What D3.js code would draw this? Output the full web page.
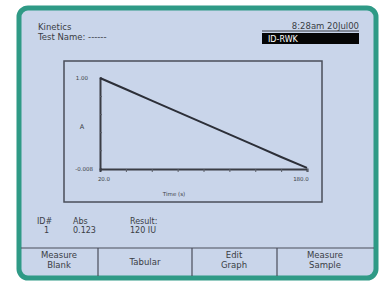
<!DOCTYPE html>
<html><head><meta charset="utf-8">
<script src="https://cdn.jsdelivr.net/npm/d3@7/dist/d3.min.js"></script>
<style>html,body{margin:0;padding:0;background:#fff;}svg{display:block;}</style>
</head><body>
<script>
const times = [20, 40, 60, 80, 100, 120, 140, 160, 180];
const absorbance = [1.0, 0.875, 0.75, 0.625, 0.5, 0.375, 0.25, 0.125, 0.005];
const yTickLabels = ["-0.008", "1.00"];
const xTickLabels = ["20.0", "180.0"];
const headerLines = ["Kinetics", "Test Name: ------"];
const dateText = "8:28am 20Jul00";
const statusText = "ID-RWK";
const infoCols = [["ID#", "1"], ["Abs", "0.123"], ["Result:", "120 IU"]];
const buttons = [["Measure", "Blank"], ["Tabular"], ["Edit", "Graph"], ["Measure", "Sample"]];

const W = 383, H = 281;
const svg = d3.select("body").append("svg").attr("width", W).attr("height", H);
const font = "'DejaVu Sans', sans-serif";
const ink = "#3a3d45";

svg.append("rect").attr("x", 19).attr("y", 8).attr("width", 357).attr("height", 270)
  .attr("rx", 9).attr("fill", "#c9d5ea").attr("stroke", "#2f9a86").attr("stroke-width", 5);

// header
svg.selectAll("text.hdr").data(headerLines).join("text").attr("class","hdr")
  .attr("x", 38).attr("y", (d,i) => 30 + i*10).text(d => d)
  .attr("font-family", font).attr("font-size", 8.5).attr("fill", ink);
svg.append("text").attr("x", 359).attr("y", 29).attr("text-anchor", "end").text(dateText)
  .attr("font-family", font).attr("font-size", 8.5).attr("fill", ink);
svg.append("line").attr("x1", 262).attr("x2", 359).attr("y1", 31).attr("y2", 31).attr("stroke", ink).attr("stroke-width", 1);
svg.append("rect").attr("x", 262).attr("y", 33).attr("width", 97).attr("height", 11).attr("fill", "#050505");
svg.append("text").attr("x", 268).attr("y", 42).text(statusText)
  .attr("font-family", font).attr("font-size", 8).attr("fill", "#fff");

// graph box
svg.append("rect").attr("x", 64).attr("y", 61).attr("width", 258).attr("height", 141)
  .attr("fill", "none").attr("stroke", "#4a4e5a").attr("stroke-width", 1.5);

const x = d3.scaleLinear().domain([20, 180]).range([100, 307]);
const y = d3.scaleLinear().domain([-0.008, 1.0]).range([169, 78]);

const xAxis = d3.axisBottom(x).tickValues([40,60,80,100,120,140,160,180]).tickSize(3).tickFormat("");
const gx = svg.append("g").attr("transform", "translate(0,169)").call(xAxis);
gx.select(".domain").attr("stroke", ink).attr("stroke-width", 2);
gx.selectAll(".tick line").attr("stroke", "#5a5e68");
const yAxis = d3.axisLeft(y).tickValues([0.2,0.4,0.6,0.8]).tickSize(-2).tickFormat("");
const gy = svg.append("g").attr("transform", "translate(100,0)").call(yAxis);
gy.select(".domain").attr("stroke", ink).attr("stroke-width", 2);
gy.selectAll(".tick line").attr("stroke", "#5a5e68");

svg.append("text").attr("x", 88).attr("y", y(1.0)+2).attr("text-anchor","end").text(yTickLabels[1])
  .attr("font-family", font).attr("font-size", 5.5).attr("fill", ink);
svg.append("text").attr("x", 93).attr("y", y(-0.008)+2).attr("text-anchor","end").text(yTickLabels[0])
  .attr("font-family", font).attr("font-size", 5.5).attr("fill", ink);
svg.append("text").attr("x", 82).attr("y", 129).attr("text-anchor","middle").text("A")
  .attr("font-family", font).attr("font-size", 6.5).attr("fill", ink);
svg.append("text").attr("x", x(20)+4).attr("y", 181).attr("text-anchor","middle").text(xTickLabels[0])
  .attr("font-family", font).attr("font-size", 5.5).attr("fill", ink);
svg.append("text").attr("x", x(180)-6).attr("y", 181).attr("text-anchor","middle").text(xTickLabels[1])
  .attr("font-family", font).attr("font-size", 5.5).attr("fill", ink);
svg.append("text").attr("x", 174).attr("y", 196).attr("text-anchor","middle").text("Time (s)")
  .attr("font-family", font).attr("font-size", 5.5).attr("fill", ink);

svg.append("path").datum(times.map((t,i)=>[t, absorbance[i]]))
  .attr("d", d3.line().x(d=>x(d[0])).y(d=>y(d[1])))
  .attr("fill","none").attr("stroke", "#2c2f38").attr("stroke-width", 2);

// info
const infoX = [37, 73, 130];
infoCols.forEach((c,i) => {
  c.forEach((t,j) => svg.append("text").attr("x", infoX[i] + (i===0 && j===1 ? 7 : 0)).attr("y", 224 + j*9).text(t)
    .attr("font-family", font).attr("font-size", 8).attr("fill", ink));
});

// buttons
svg.append("line").attr("x1", 21).attr("x2", 374).attr("y1", 248).attr("y2", 248).attr("stroke", "#4a4e5a").attr("stroke-width", 1.2);
[98, 192, 277].forEach(v => svg.append("line").attr("x1", v).attr("x2", v).attr("y1", 248).attr("y2", 276).attr("stroke", "#4a4e5a").attr("stroke-width", 1.2));
const bx = [59, 145, 234, 325];
buttons.forEach((b,i) => {
  b.forEach((t,j) => svg.append("text").attr("x", bx[i]).attr("text-anchor","middle")
    .attr("y", b.length === 1 ? 265 : 258 + j*10).text(t)
    .attr("font-family", font).attr("font-size", 8.5).attr("fill", ink));
});
</script>
</body></html>
